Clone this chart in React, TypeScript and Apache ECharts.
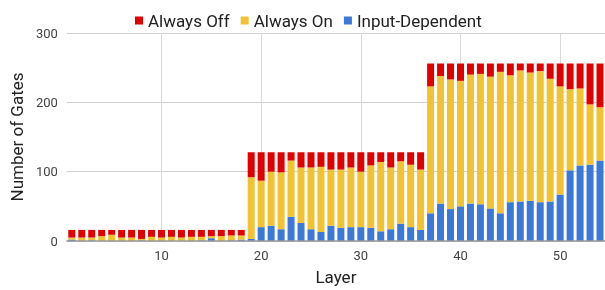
import React, { useEffect, useRef } from "react";
import * as echarts from "echarts";

const layers = [
  1, 2, 3, 4, 5, 6, 7, 8, 9, 10, 11, 12, 13, 14, 15, 16, 17, 18,
  19, 20, 21, 22, 23, 24, 25, 26, 27, 28, 29, 30, 31, 32, 33, 34, 35, 36,
  37, 38, 39, 40, 41, 42, 43, 44, 45, 46, 47, 48, 49, 50, 51, 52, 53, 54,
];

const inputDependent = [
  2, 0, 1, 0, 0, 0, 0, 1, 0, 0, 0, 0, 0, 1, 4, 0, 1, 2,
  3, 20, 22, 17, 35, 26, 17, 13, 22, 19, 20, 20, 19, 14, 17, 25, 20, 16,
  40, 54, 46, 50, 54, 53, 47, 40, 56, 57, 58, 56, 57, 67, 102, 109, 110, 116,
];

const alwaysOn = [
  3, 5, 4, 7, 9, 5, 5, 2, 6, 5, 6, 5, 6, 5, 3, 7, 7, 6,
  89, 67, 78, 82, 81, 80, 89, 94, 81, 84, 86, 80, 90, 100, 89, 90, 90, 87,
  183, 184, 187, 181, 186, 188, 190, 204, 183, 189, 185, 189, 177, 156, 117, 111, 87, 77,
];

const alwaysOff = [
  11, 11, 11, 9, 7, 11, 11, 13, 10, 11, 10, 11, 10, 10, 9, 9, 8, 8,
  36, 41, 28, 29, 12, 22, 22, 21, 25, 25, 22, 28, 19, 14, 22, 13, 18, 25,
  33, 18, 23, 25, 16, 15, 19, 12, 17, 10, 13, 11, 22, 33, 37, 36, 59, 63,
];

const xTickLabels = [10, 20, 30, 40, 50];
const yTicks = { min: 0, max: 300, interval: 100 };

const FONT = "Roboto";

export default function App() {
  const ref = useRef<HTMLDivElement>(null);

  useEffect(() => {
    if (!ref.current) return;
    const chart = echarts.init(ref.current, undefined, { renderer: "svg" });
    chart.setOption({
      animation: false,
      textStyle: { fontFamily: FONT },
      legend: {
        data: ["Always Off", "Always On", "Input-Dependent"],
        left: 130,
        top: 7,
        icon: "rect",
        itemWidth: 8,
        itemHeight: 8,
        itemGap: 11,
        textStyle: { fontFamily: FONT, fontSize: 17, color: "#222" },
      },
      grid: { left: 64.7, right: -1.3, top: 33, bottom: 48.3 },
      xAxis: [
        {
          type: "category",
          data: layers.map(String),
          name: "Layer",
          nameLocation: "middle",
          nameGap: 27,
          nameTextStyle: { fontFamily: FONT, fontSize: 17, color: "#222" },
          axisLine: { show: true, lineStyle: { color: "#999", width: 1.5 } },
          axisTick: { show: false },
          axisLabel: {
            interval: (_i: number, v: string) => xTickLabels.includes(Number(v)),
            fontFamily: FONT,
            fontSize: 13,
            color: "#444",
            margin: 8,
          },
          splitLine: { show: false },
          z: 3,
        },
        {
          type: "value",
          min: 0.5,
          max: 54.5,
          position: "bottom",
          axisLine: { show: false },
          axisTick: { show: false },
          axisLabel: { show: false },
          splitLine: {
            show: true,
            showMinLine: false,
            showMaxLine: false,
            lineStyle: { color: "#d9d9d9", width: 1 },
          },
        },
      ],
      yAxis: {
        type: "value",
        min: yTicks.min,
        max: yTicks.max,
        interval: yTicks.interval,
        name: "Number of Gates",
        nameLocation: "middle",
        nameGap: 37,
        nameTextStyle: { fontFamily: FONT, fontSize: 17, color: "#222" },
        axisLine: { show: false },
        axisTick: { show: false },
        axisLabel: { fontFamily: FONT, fontSize: 13, color: "#444", margin: 9 },
        splitLine: { lineStyle: { color: "#d0d0d0", width: 1 } },
      },
      series: [
        {
          name: "Input-Dependent",
          type: "bar",
          stack: "g",
          xAxisIndex: 0,
          barWidth: 7,
          itemStyle: { color: "#3c78d8" },
          data: inputDependent,
        },
        {
          name: "Always On",
          type: "bar",
          stack: "g",
          xAxisIndex: 0,
          barWidth: 7,
          itemStyle: { color: "#f1c232" },
          data: alwaysOn,
        },
        {
          name: "Always Off",
          type: "bar",
          stack: "g",
          xAxisIndex: 0,
          barWidth: 7,
          itemStyle: { color: "#e00000" },
          data: alwaysOff,
        },
      ],
    });
    return () => chart.dispose();
  }, []);

  return (
    <div
      ref={ref}
      style={{ position: "fixed", left: 0, top: 0, width: 605, height: 290 }}
    />
  );
}
